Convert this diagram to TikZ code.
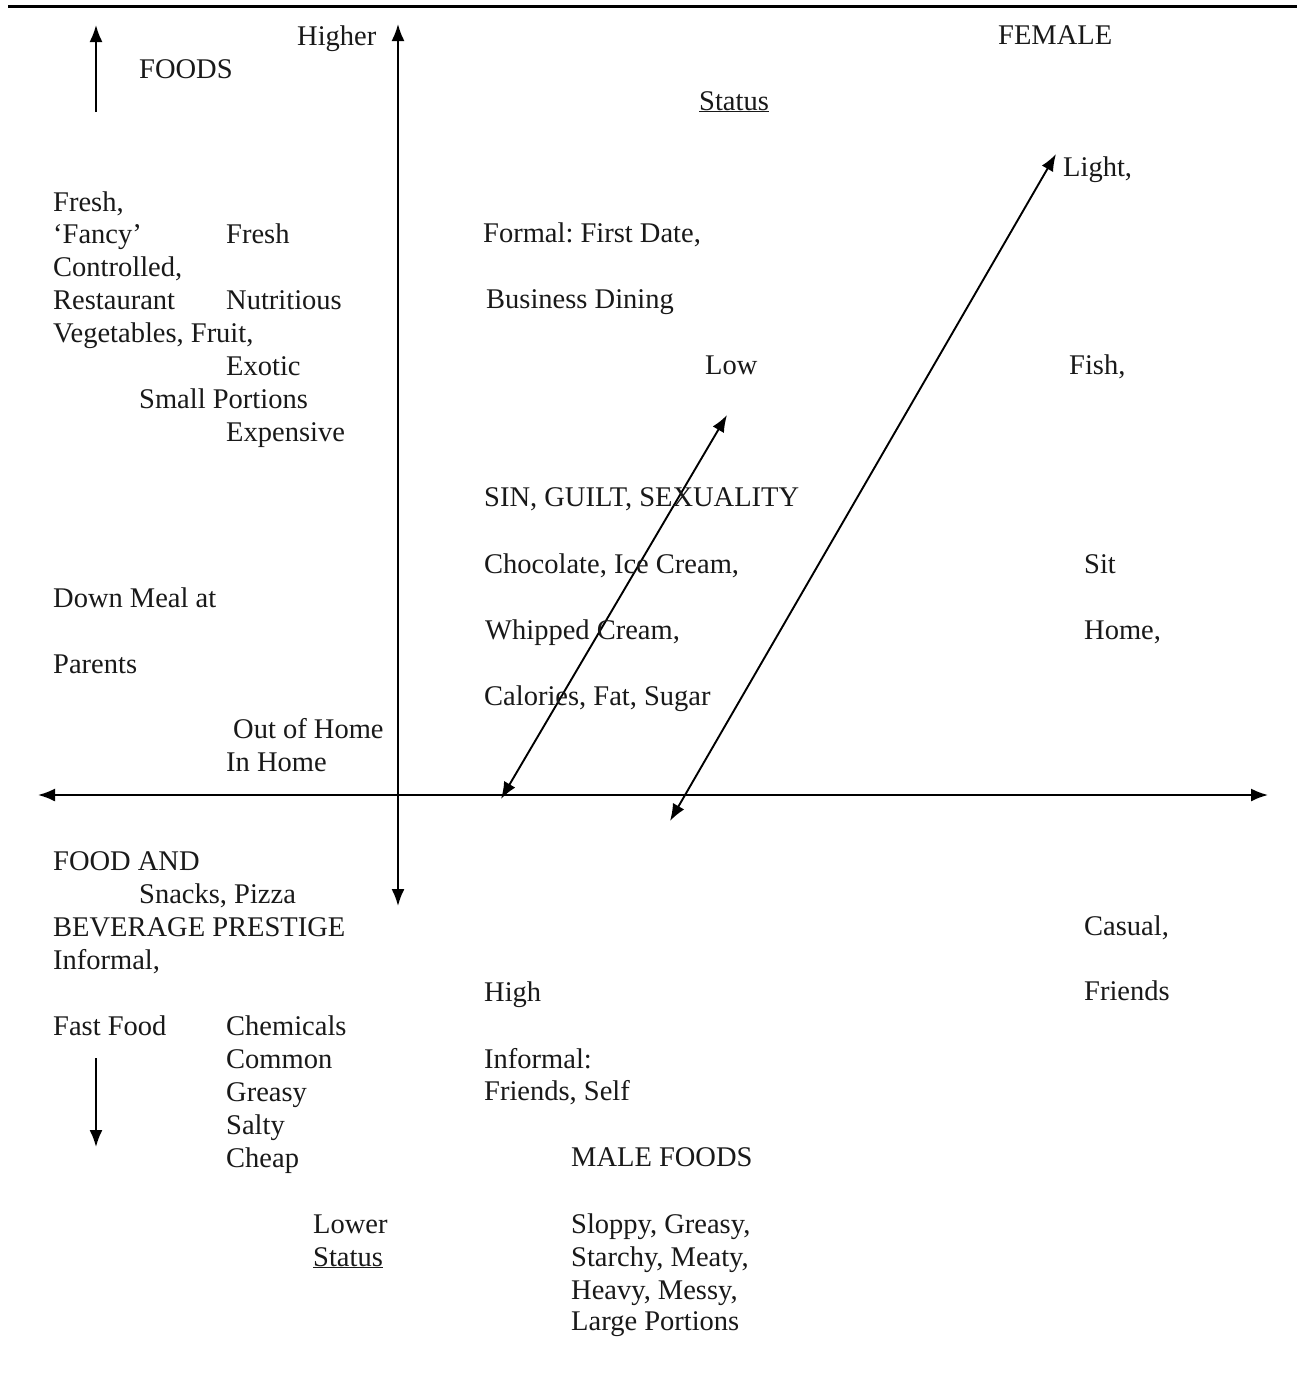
\documentclass[tikz,border=0pt]{standalone}
\usepackage{fontspec}
\setmainfont{Liberation Serif}
\usetikzlibrary{arrows.meta}
\frenchspacing
\begin{document}
\begin{tikzpicture}[x=1pt,y=-1pt,
  lbl/.style={anchor=base west,inner sep=0pt,font=\fontsize{28.5}{33}\selectfont\frenchspacing,text=black!90},
  twoway/.style={line width=1.9pt,{Latex[length=17pt,width=13pt]}-{Latex[length=17pt,width=13pt]}},
  oneway/.style={line width=1.9pt,-{Latex[length=17pt,width=13pt]}}]
\useasboundingbox (0,0) rectangle (1297,1395);
\fill[white] (0,0) rectangle (1297,1395);
% top rule
\coordinate (ruleL) at (8,6);
\coordinate (ruleR) at (1297,6);
\draw[line width=3pt] (ruleL) -- (ruleR);
% axes
\coordinate (vtop) at (398,24);
\coordinate (vbot) at (398,906);
\coordinate (hl) at (38,795);
\coordinate (hr) at (1268,795);
\draw[twoway] (vbot) -- (vtop);
\draw[twoway] (hl) -- (hr);
% diagonal arrows
\coordinate (d1a) at (501,799);
\coordinate (d1b) at (727,415);
\coordinate (d2a) at (670,821);
\coordinate (d2b) at (1056,154);
\draw[twoway] (d1a) -- (d1b);
\draw[twoway] (d2a) -- (d2b);
% small arrows
\coordinate (upA) at (96,112);
\coordinate (upB) at (96,25);
\coordinate (dnA) at (96,1058);
\coordinate (dnB) at (96,1147);
\draw[oneway] (upA) -- (upB);
\draw[oneway] (dnA) -- (dnB);
% texts
\node[lbl] (higher) at (297,45) {Higher};
\node[lbl] (foods) at (139,78) {FOODS};
\node[lbl] (female) at (998,44) {FEMALE};
\node[lbl] (status1) at (699,110) {\underline{Status}};
\node[lbl] (light) at (1063,176) {Light,};
\node[lbl] (fresh1) at (53,211) {Fresh,};
\node[lbl] (fancy) at (53,243) {‘Fancy’};
\node[lbl] (fresh2) at (226,243) {Fresh};
\node[lbl] (controlled) at (53,276) {Controlled,};
\node[lbl] (restaurant) at (53,309) {Restaurant};
\node[lbl] (nutritious) at (226,309) {Nutritious};
\node[lbl] (veg) at (53,342) {Vegetables, Fruit,};
\node[lbl] (exotic) at (226,375) {Exotic};
\node[lbl] (small) at (139,408) {Small Portions};
\node[lbl] (expensive) at (226,441) {Expensive};
\node[lbl] (formal) at (483,242) {Formal: First Date,};
\node[lbl] (business) at (486,308) {Business Dining};
\node[lbl] (low) at (705,374) {Low};
\node[lbl] (fish) at (1069,374) {Fish,};
\node[lbl] (sin) at (484,506) {SIN, GUILT, SEXUALITY};
\node[lbl] (choc) at (484,573) {Chocolate, Ice Cream,};
\node[lbl] (sit) at (1084,573) {Sit};
\node[lbl] (down) at (53,607) {Down Meal at};
\node[lbl] (whipped) at (485,639) {Whipped Cream,};
\node[lbl] (home) at (1084,639) {Home,};
\node[lbl] (parents) at (53,673) {Parents};
\node[lbl] (calories) at (484,705) {Calories, Fat, Sugar};
\node[lbl] (outhome) at (233,738) {Out of Home};
\node[lbl] (inhome) at (226,771) {In Home};
\node[lbl] (foodand) at (53,870) {FOOD AND};
\node[lbl] (snacks) at (139,903) {Snacks, Pizza};
\node[lbl] (bev) at (53,936) {BEVERAGE PRESTIGE};
\node[lbl] (casual) at (1084,935) {Casual,};
\node[lbl] (informal1) at (53,969) {Informal,};
\node[lbl] (high) at (484,1001) {High};
\node[lbl] (friends) at (1084,1000) {Friends};
\node[lbl] (fastfood) at (53,1035) {Fast Food};
\node[lbl] (chemicals) at (226,1035) {Chemicals};
\node[lbl] (common) at (226,1068) {Common};
\node[lbl] (informal2) at (484,1068) {Informal:};
\node[lbl] (greasy) at (226,1101) {Greasy};
\node[lbl] (friendsself) at (484,1100) {Friends, Self};
\node[lbl] (salty) at (226,1134) {Salty};
\node[lbl] (cheap) at (226,1167) {Cheap};
\node[lbl] (male) at (571,1166) {MALE FOODS};
\node[lbl] (lower) at (313,1233) {Lower};
\node[lbl] (sloppy) at (571,1233) {Sloppy, Greasy,};
\node[lbl] (status2) at (313,1266) {\underline{Status}};
\node[lbl] (starchy) at (571,1266) {Starchy, Meaty,};
\node[lbl] (heavy) at (571,1299) {Heavy, Messy,};
\node[lbl] (large) at (571,1330) {Large Portions};
\end{tikzpicture}
\end{document}
